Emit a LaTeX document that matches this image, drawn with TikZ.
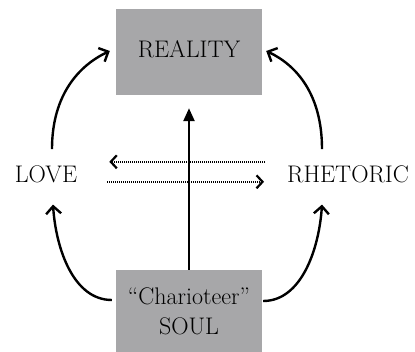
\documentclass[tikz,border=0pt]{standalone}
\usepackage{fontspec}
\usetikzlibrary{arrows.meta,calc}
\definecolor{boxgray}{HTML}{A7A7A9}
\begin{document}
\begin{tikzpicture}[x=1pt,y=-1pt,
  box/.style={fill=boxgray,draw=none,minimum width=146pt,inner sep=0pt,align=center,font=\fontsize{24}{30}\selectfont},
  lbl/.style={inner sep=0pt,font=\fontsize{24}{30}\selectfont},
  curv/.style={line width=2.4pt,-{Straight Barb[length=7.5pt,width=15pt,line width=2.4pt]}},
  dotarr/.style={line width=2.2pt,dash pattern=on 1pt off 1pt,-{Straight Barb[length=6pt,width=13pt,line width=2.2pt,sep=0pt]}},
  vert/.style={line width=2.4pt,-{Triangle[length=13pt,width=11pt]}}]
\useasboundingbox (0,0) rectangle (415,352);
\node[box,minimum height=86pt,text depth=5pt] (reality) at (189,52) {REALITY};
\node[box,minimum height=82pt] (soul) at (189,311) {``Charioteer''\\SOUL};
\node[lbl,anchor=base] (love) at (46,183) {LOVE};
\node[lbl,anchor=base] (rhetoric) at (348,183) {RHETORIC};
\draw[vert] (soul.north) -- ([yshift=-13pt]reality.south);
\draw[dotarr] ([xshift=-22pt,yshift=13pt]rhetoric.west) -- ([xshift=32pt,yshift=13pt]love.east);
\draw[dotarr] ([xshift=30pt,yshift=-7pt]love.east) -- ([xshift=-23pt,yshift=-7pt]rhetoric.west);
\draw[curv] ([xshift=6pt,yshift=17pt]love.north) .. controls +(0,-55) and +(-30,14) .. ([xshift=-6pt,yshift=1pt]reality.west);
\draw[curv] ([xshift=-26pt,yshift=17pt]rhetoric.north) .. controls +(0,-55) and +(30,14) .. ([xshift=4pt,yshift=1pt]reality.east);
\draw[curv] ([xshift=-4pt,yshift=11pt]soul.west) .. controls +(-38,0) and +(3,45) .. ([xshift=7pt,yshift=-21pt]love.south);
\draw[curv] ([xshift=1pt,yshift=10pt]soul.east) .. controls +(38,0) and +(-3,45) .. ([xshift=-26pt,yshift=-21pt]rhetoric.south);
\end{tikzpicture}
\end{document}
